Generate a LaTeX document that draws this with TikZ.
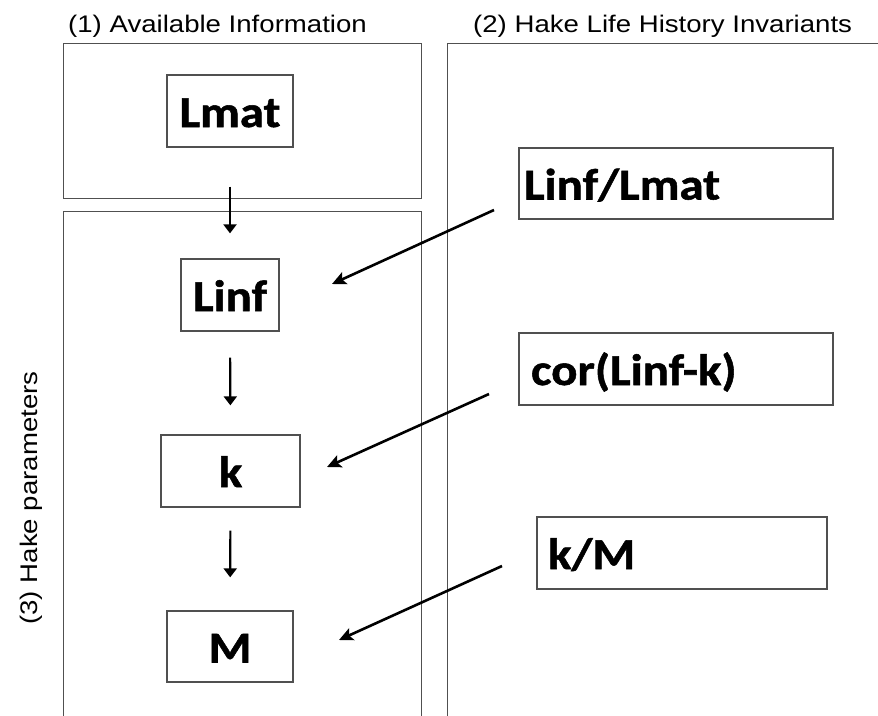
\documentclass[tikz,border=0pt]{standalone}
\usepackage{fontspec}
\newfontfamily\boxfont[FakeStretch=1.11,FakeBold=1.2]{Carlito}
\newfontfamily\titlefont[FakeStretch=1.15]{Liberation Sans}
\usetikzlibrary{arrows.meta}
\definecolor{linegray}{HTML}{505050}
\tikzset{
  panel/.style={draw=linegray, line width=1pt},
  cbox/.style={draw=linegray, line width=1.3pt, inner sep=0pt,
    font=\boxfont\bfseries\fontsize{44}{50}\selectfont,
    text height=36pt, text depth=4pt},
  lbox/.style={cbox, align=left},
  ttl/.style={font=\titlefont\fontsize{24}{28}\selectfont, inner sep=0pt},
  varrow/.style={line width=2.2pt, -{Triangle[length=9pt,width=13pt]}},
  darrow/.style={line width=2.6pt, -{Stealth[length=14pt,width=13pt,inset=3pt]}}
}
\begin{document}
\begin{tikzpicture}[x=1pt,y=-1pt]
\useasboundingbox (0,0) rectangle (878,715);
% panels
\draw[panel] (63,43) rectangle (421,198);
\draw[panel] (63,716) -- (63,211) -- (421,211) -- (421,716);
\draw[panel] (447,716) -- (447,43) -- (880,43);
% titles
\node[ttl, anchor=base west] (t1) at (68,32) {(1) Available Information};
\node[ttl, anchor=base west] (t2) at (473,32) {(2) Hake Life History Invariants};
\node[ttl, anchor=base, rotate=90] (t3) at (37,498) {(3) Hake parameters};
% parameter boxes
\node[cbox, minimum width=126pt, minimum height=72pt] (lmat) at (230,111) {Lmat};
\node[cbox, minimum width=98pt, minimum height=72pt] (linf) at (230,295) {Linf};
\node[cbox, minimum width=139pt, minimum height=72pt] (k) at (230.5,471) {k};
\node[cbox, minimum width=126pt, minimum height=71pt] (m) at (230,646.5) {M};
% invariant boxes
\node[lbox, minimum height=71pt, text width=304pt, inner xsep=5pt] (ll) at (676,183.5) {Linf/Lmat};
\node[lbox, minimum height=72pt, text width=290pt, inner xsep=12pt] (cor) at (676,369) {cor(Linf-k)};
\node[lbox, minimum height=72pt, text width=268pt, inner xsep=11pt] (km) at (682,553) {k/M};
% vertical arrows
\draw[varrow, shorten <=39pt, shorten >=25pt] (lmat.south) -- (linf.north);
\draw[varrow, shorten <=26pt, shorten >=29pt] (linf.south) -- (k.north);
\draw[varrow, shorten <=23pt, shorten >=33pt] (k.south) -- (m.north);
% diagonal arrows
\coordinate (a1s) at (494,210);
\coordinate (a1e) at (332,284);
\coordinate (a2s) at (489,394);
\coordinate (a2e) at (327,467);
\coordinate (a3s) at (502,566);
\coordinate (a3e) at (339,640);
\draw[darrow] (a1s) -- (a1e);
\draw[darrow] (a2s) -- (a2e);
\draw[darrow] (a3s) -- (a3e);
\end{tikzpicture}
\end{document}
